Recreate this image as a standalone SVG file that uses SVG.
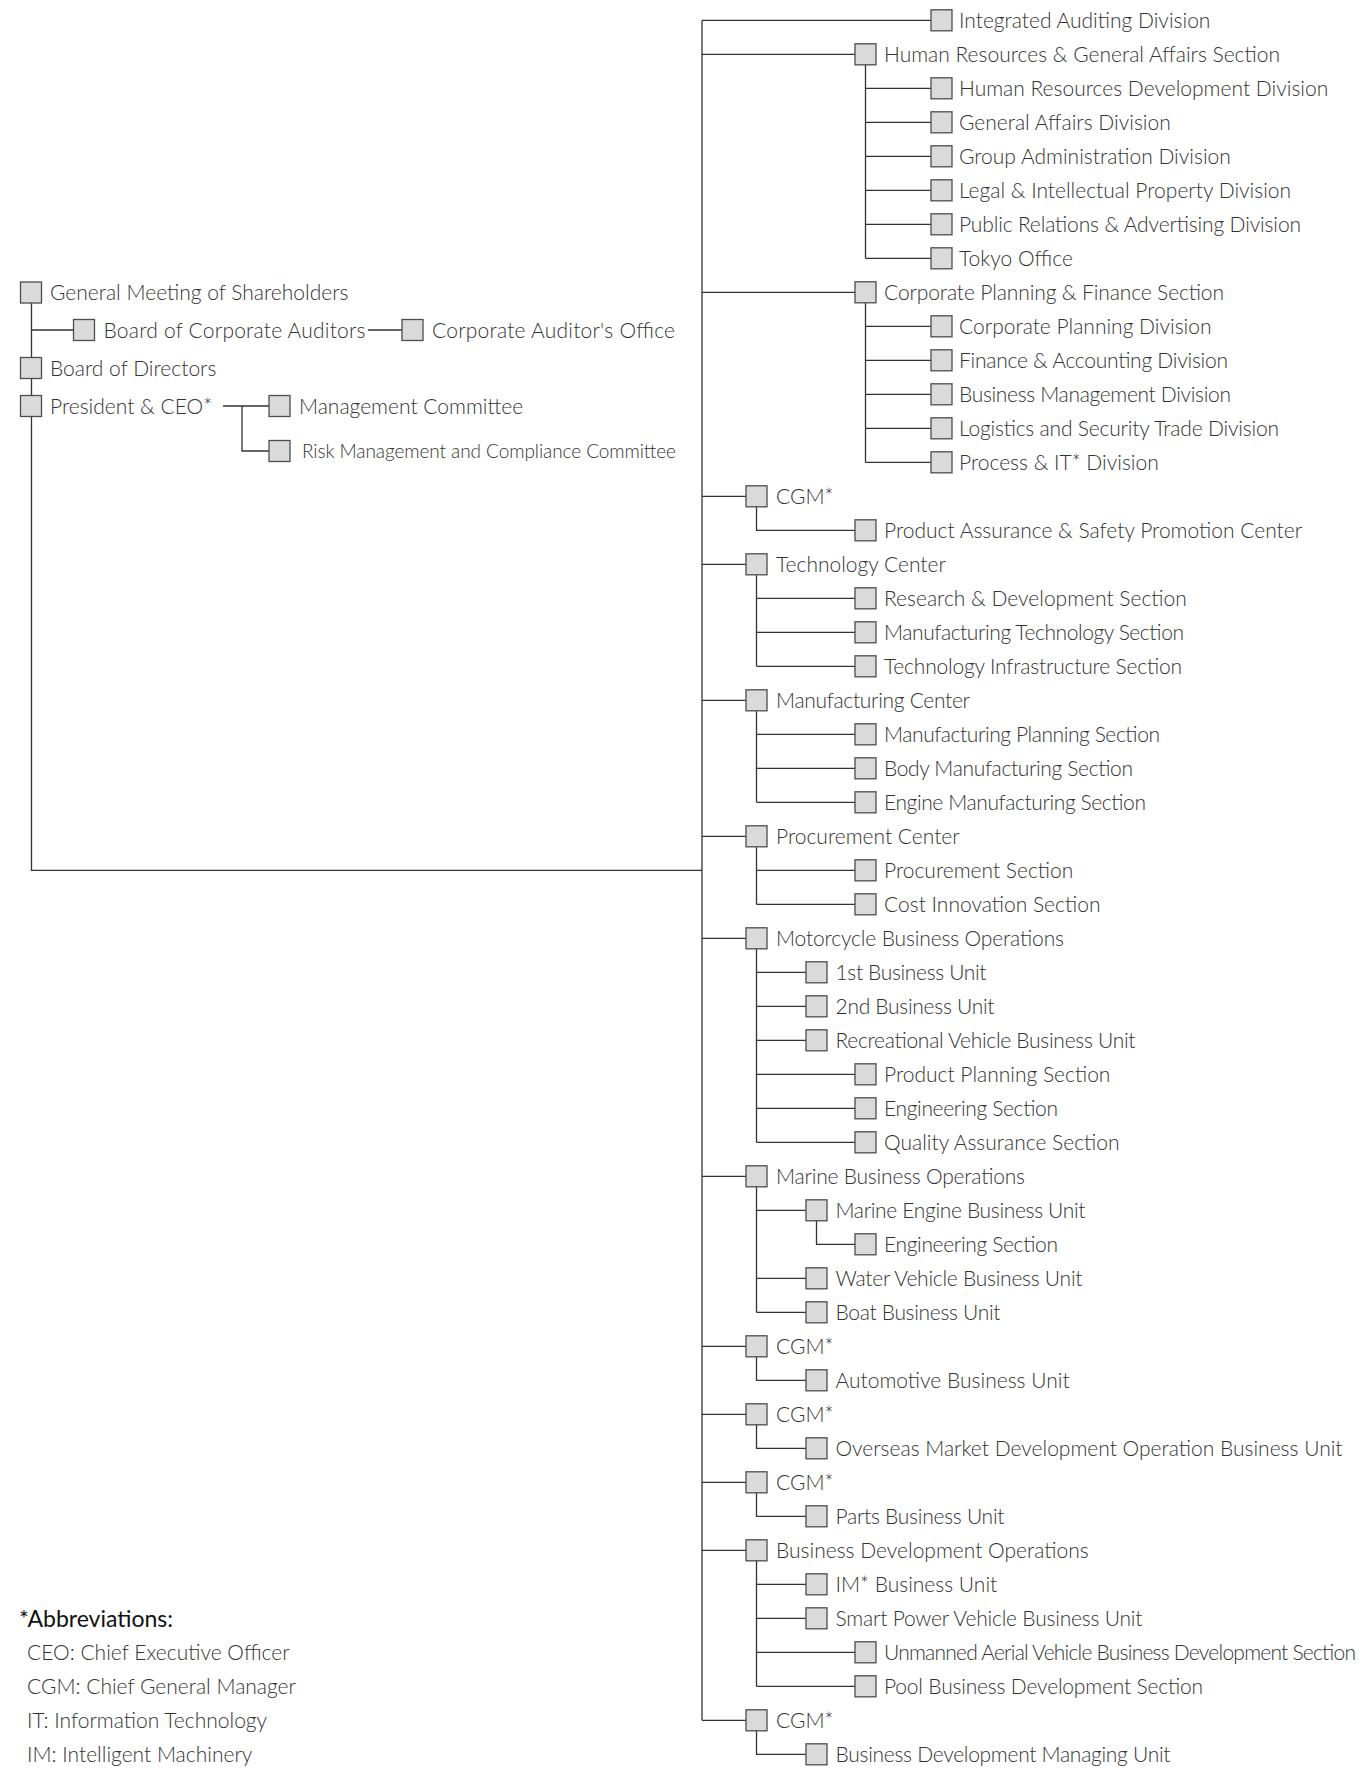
<svg xmlns="http://www.w3.org/2000/svg" width="1363" height="1768" viewBox="0 0 1363 1768">
<style>
.b{fill:#dadada;stroke:#4d4d4d;stroke-width:1.3}
.t{font-family:Lato,"Open Sans","Liberation Sans",sans-serif;font-weight:300;font-size:21px;fill:#333}
.s{font-size:19px}
.h{font-family:Lato,"Open Sans","Liberation Sans",sans-serif;font-weight:400;font-size:23px;fill:#111}
.c{fill:none;stroke:#333;stroke-width:1.3}
</style>
<rect width="1363" height="1768" fill="#fff"/>
<g id="connectors" class="c">
<path d="M31.5,292.5V870.3H702"/>
<path d="M31.5,330H73.5M368,330H402"/>
<path d="M223,406H269M242,406V451H269"/>
<path d="M702,20.3V1720.3"/>
<path d="M702,20.3H931M702,54.3H855M702,292.3H855"/>
<path d="M702,496.3H746M702,564.3H746M702,700.3H746M702,836.3H746M702,938.3H746M702,1176.3H746M702,1346.3H746M702,1414.3H746M702,1482.3H746M702,1550.3H746M702,1720.3H746"/>
<path d="M865.5,64.8V258.3M865.5,88.3H931M865.5,122.3H931M865.5,156.3H931M865.5,190.3H931M865.5,224.3H931M865.5,258.3H931"/>
<path d="M865.5,302.8V462.3M865.5,326.3H931M865.5,360.3H931M865.5,394.3H931M865.5,428.3H931M865.5,462.3H931"/>
<path d="M756.5,506.8V530.3H855"/>
<path d="M756.5,574.8V666.3M756.5,598.3H855M756.5,632.3H855M756.5,666.3H855"/>
<path d="M756.5,710.8V802.3M756.5,734.3H855M756.5,768.3H855M756.5,802.3H855"/>
<path d="M756.5,846.8V904.3M756.5,870.3H855M756.5,904.3H855"/>
<path d="M756.5,948.8V1142.3M756.5,972.3H806M756.5,1006.3H806M756.5,1040.3H806M756.5,1074.3H855M756.5,1108.3H855M756.5,1142.3H855"/>
<path d="M756.5,1186.8V1312.3M756.5,1210.3H806M756.5,1278.3H806M756.5,1312.3H806"/>
<path d="M816.5,1220.8V1244.3H855"/>
<path d="M756.5,1356.8V1380.3H806"/>
<path d="M756.5,1424.8V1448.3H806"/>
<path d="M756.5,1492.8V1516.3H806"/>
<path d="M756.5,1560.8V1686.3M756.5,1584.3H806M756.5,1618.3H806M756.5,1652.3H855M756.5,1686.3H855"/>
<path d="M756.5,1730.8V1754.3H806"/>
</g>
<g id="n-gms" transform="translate(20.5,292.5)"><rect class="b" y="-10.5" width="21" height="21"/><text class="t" x="29.5" y="7.5">General Meeting of Shareholders</text></g>
<g id="n-bca" transform="translate(73.5,330)"><rect class="b" y="-10.5" width="21" height="21"/><text class="t" x="30" y="7.5" textLength="262">Board of Corporate Auditors</text></g>
<g id="n-cao" transform="translate(402,330)"><rect class="b" y="-10.5" width="21" height="21"/><text class="t" x="30" y="7.5" textLength="243">Corporate Auditor's Office</text></g>
<g id="n-bod" transform="translate(20.5,368)"><rect class="b" y="-10.5" width="21" height="21"/><text class="t" x="29.5" y="7.5">Board of Directors</text></g>
<g id="n-ceo" transform="translate(20.5,406)"><rect class="b" y="-10.5" width="21" height="21"/><text class="t" x="29.5" y="7.5">President &amp; CEO*</text></g>
<g id="n-mc" transform="translate(269,406)"><rect class="b" y="-10.5" width="21" height="21"/><text class="t" x="30" y="7.5">Management Committee</text></g>
<g id="n-rmc" transform="translate(269,451)"><rect class="b" y="-10.5" width="21" height="21"/><text class="t s" x="33" y="7" textLength="374">Risk Management and Compliance Committee</text></g>
<g id="n0" transform="translate(931,20.3)"><rect class="b" y="-10.5" width="21" height="21"/><text class="t" x="28" y="7.5">Integrated Auditing Division</text></g>
<g id="n1" transform="translate(855,54.3)"><rect class="b" y="-10.5" width="21" height="21"/><text class="t" x="29" y="7.5">Human Resources &amp; General Affairs Section</text></g>
<g id="n2" transform="translate(931,88.3)"><rect class="b" y="-10.5" width="21" height="21"/><text class="t" x="28" y="7.5">Human Resources Development Division</text></g>
<g id="n3" transform="translate(931,122.3)"><rect class="b" y="-10.5" width="21" height="21"/><text class="t" x="28" y="7.5">General Affairs Division</text></g>
<g id="n4" transform="translate(931,156.3)"><rect class="b" y="-10.5" width="21" height="21"/><text class="t" x="28" y="7.5">Group Administration Division</text></g>
<g id="n5" transform="translate(931,190.3)"><rect class="b" y="-10.5" width="21" height="21"/><text class="t" x="28" y="7.5">Legal &amp; Intellectual Property Division</text></g>
<g id="n6" transform="translate(931,224.3)"><rect class="b" y="-10.5" width="21" height="21"/><text class="t" x="28" y="7.5" textLength="342">Public Relations &amp; Advertising Division</text></g>
<g id="n7" transform="translate(931,258.3)"><rect class="b" y="-10.5" width="21" height="21"/><text class="t" x="28" y="7.5">Tokyo Office</text></g>
<g id="n8" transform="translate(855,292.3)"><rect class="b" y="-10.5" width="21" height="21"/><text class="t" x="29" y="7.5" textLength="340">Corporate Planning &amp; Finance Section</text></g>
<g id="n9" transform="translate(931,326.3)"><rect class="b" y="-10.5" width="21" height="21"/><text class="t" x="28" y="7.5">Corporate Planning Division</text></g>
<g id="n10" transform="translate(931,360.3)"><rect class="b" y="-10.5" width="21" height="21"/><text class="t" x="28" y="7.5" textLength="269">Finance &amp; Accounting Division</text></g>
<g id="n11" transform="translate(931,394.3)"><rect class="b" y="-10.5" width="21" height="21"/><text class="t" x="28" y="7.5" textLength="272">Business Management Division</text></g>
<g id="n12" transform="translate(931,428.3)"><rect class="b" y="-10.5" width="21" height="21"/><text class="t" x="28" y="7.5" textLength="320">Logistics and Security Trade Division</text></g>
<g id="n13" transform="translate(931,462.3)"><rect class="b" y="-10.5" width="21" height="21"/><text class="t" x="28" y="7.5">Process &amp; IT* Division</text></g>
<g id="n14" transform="translate(746,496.3)"><rect class="b" y="-10.5" width="21" height="21"/><text class="t" x="30" y="7.5">CGM*</text></g>
<g id="n15" transform="translate(855,530.3)"><rect class="b" y="-10.5" width="21" height="21"/><text class="t" x="29" y="7.5">Product Assurance &amp; Safety Promotion Center</text></g>
<g id="n16" transform="translate(746,564.3)"><rect class="b" y="-10.5" width="21" height="21"/><text class="t" x="30" y="7.5">Technology Center</text></g>
<g id="n17" transform="translate(855,598.3)"><rect class="b" y="-10.5" width="21" height="21"/><text class="t" x="29" y="7.5">Research &amp; Development Section</text></g>
<g id="n18" transform="translate(855,632.3)"><rect class="b" y="-10.5" width="21" height="21"/><text class="t" x="29" y="7.5" textLength="300">Manufacturing Technology Section</text></g>
<g id="n19" transform="translate(855,666.3)"><rect class="b" y="-10.5" width="21" height="21"/><text class="t" x="29" y="7.5" textLength="298">Technology Infrastructure Section</text></g>
<g id="n20" transform="translate(746,700.3)"><rect class="b" y="-10.5" width="21" height="21"/><text class="t" x="30" y="7.5" textLength="194">Manufacturing Center</text></g>
<g id="n21" transform="translate(855,734.3)"><rect class="b" y="-10.5" width="21" height="21"/><text class="t" x="29" y="7.5" textLength="276">Manufacturing Planning Section</text></g>
<g id="n22" transform="translate(855,768.3)"><rect class="b" y="-10.5" width="21" height="21"/><text class="t" x="29" y="7.5" textLength="249">Body Manufacturing Section</text></g>
<g id="n23" transform="translate(855,802.3)"><rect class="b" y="-10.5" width="21" height="21"/><text class="t" x="29" y="7.5" textLength="262">Engine Manufacturing Section</text></g>
<g id="n24" transform="translate(746,836.3)"><rect class="b" y="-10.5" width="21" height="21"/><text class="t" x="30" y="7.5">Procurement Center</text></g>
<g id="n25" transform="translate(855,870.3)"><rect class="b" y="-10.5" width="21" height="21"/><text class="t" x="29" y="7.5">Procurement Section</text></g>
<g id="n26" transform="translate(855,904.3)"><rect class="b" y="-10.5" width="21" height="21"/><text class="t" x="29" y="7.5">Cost Innovation Section</text></g>
<g id="n27" transform="translate(746,938.3)"><rect class="b" y="-10.5" width="21" height="21"/><text class="t" x="30" y="7.5" textLength="288">Motorcycle Business Operations</text></g>
<g id="n28" transform="translate(806,972.3)"><rect class="b" y="-10.5" width="21" height="21"/><text class="t" x="29.5" y="7.5" textLength="151">1st Business Unit</text></g>
<g id="n29" transform="translate(806,1006.3)"><rect class="b" y="-10.5" width="21" height="21"/><text class="t" x="29.5" y="7.5" textLength="159">2nd Business Unit</text></g>
<g id="n30" transform="translate(806,1040.3)"><rect class="b" y="-10.5" width="21" height="21"/><text class="t" x="29.5" y="7.5" textLength="300">Recreational Vehicle Business Unit</text></g>
<g id="n31" transform="translate(855,1074.3)"><rect class="b" y="-10.5" width="21" height="21"/><text class="t" x="29" y="7.5">Product Planning Section</text></g>
<g id="n32" transform="translate(855,1108.3)"><rect class="b" y="-10.5" width="21" height="21"/><text class="t" x="29" y="7.5" textLength="174">Engineering Section</text></g>
<g id="n33" transform="translate(855,1142.3)"><rect class="b" y="-10.5" width="21" height="21"/><text class="t" x="29" y="7.5">Quality Assurance Section</text></g>
<g id="n34" transform="translate(746,1176.3)"><rect class="b" y="-10.5" width="21" height="21"/><text class="t" x="30" y="7.5" textLength="249">Marine Business Operations</text></g>
<g id="n35" transform="translate(806,1210.3)"><rect class="b" y="-10.5" width="21" height="21"/><text class="t" x="29.5" y="7.5" textLength="250">Marine Engine Business Unit</text></g>
<g id="n36" transform="translate(855,1244.3)"><rect class="b" y="-10.5" width="21" height="21"/><text class="t" x="29" y="7.5" textLength="174">Engineering Section</text></g>
<g id="n37" transform="translate(806,1278.3)"><rect class="b" y="-10.5" width="21" height="21"/><text class="t" x="29.5" y="7.5" textLength="247">Water Vehicle Business Unit</text></g>
<g id="n38" transform="translate(806,1312.3)"><rect class="b" y="-10.5" width="21" height="21"/><text class="t" x="29.5" y="7.5" textLength="165">Boat Business Unit</text></g>
<g id="n39" transform="translate(746,1346.3)"><rect class="b" y="-10.5" width="21" height="21"/><text class="t" x="30" y="7.5">CGM*</text></g>
<g id="n40" transform="translate(806,1380.3)"><rect class="b" y="-10.5" width="21" height="21"/><text class="t" x="29.5" y="7.5">Automotive Business Unit</text></g>
<g id="n41" transform="translate(746,1414.3)"><rect class="b" y="-10.5" width="21" height="21"/><text class="t" x="30" y="7.5">CGM*</text></g>
<g id="n42" transform="translate(806,1448.3)"><rect class="b" y="-10.5" width="21" height="21"/><text class="t" x="29.5" y="7.5">Overseas Market Development Operation Business Unit</text></g>
<g id="n43" transform="translate(746,1482.3)"><rect class="b" y="-10.5" width="21" height="21"/><text class="t" x="30" y="7.5">CGM*</text></g>
<g id="n44" transform="translate(806,1516.3)"><rect class="b" y="-10.5" width="21" height="21"/><text class="t" x="29.5" y="7.5" textLength="169">Parts Business Unit</text></g>
<g id="n45" transform="translate(746,1550.3)"><rect class="b" y="-10.5" width="21" height="21"/><text class="t" x="30" y="7.5">Business Development Operations</text></g>
<g id="n46" transform="translate(806,1584.3)"><rect class="b" y="-10.5" width="21" height="21"/><text class="t" x="29.5" y="7.5">IM* Business Unit</text></g>
<g id="n47" transform="translate(806,1618.3)"><rect class="b" y="-10.5" width="21" height="21"/><text class="t" x="29.5" y="7.5" textLength="307">Smart Power Vehicle Business Unit</text></g>
<g id="n48" transform="translate(855,1652.3)"><rect class="b" y="-10.5" width="21" height="21"/><text class="t" x="29" y="7.5" textLength="472">Unmanned Aerial Vehicle Business Development Section</text></g>
<g id="n49" transform="translate(855,1686.3)"><rect class="b" y="-10.5" width="21" height="21"/><text class="t" x="29" y="7.5" textLength="319">Pool Business Development Section</text></g>
<g id="n50" transform="translate(746,1720.3)"><rect class="b" y="-10.5" width="21" height="21"/><text class="t" x="30" y="7.5">CGM*</text></g>
<g id="n51" transform="translate(806,1754.3)"><rect class="b" y="-10.5" width="21" height="21"/><text class="t" x="29.5" y="7.5" textLength="335">Business Development Managing Unit</text></g>
<g id="abbreviations">
<text class="h" x="19" y="1627">*Abbreviations:</text>
<text class="t" x="27" y="1660">CEO: Chief Executive Officer</text>
<text class="t" x="27" y="1694">CGM: Chief General Manager</text>
<text class="t" x="27" y="1728">IT: Information Technology</text>
<text class="t" x="27" y="1762">IM: Intelligent Machinery</text>
</g>
</svg>
